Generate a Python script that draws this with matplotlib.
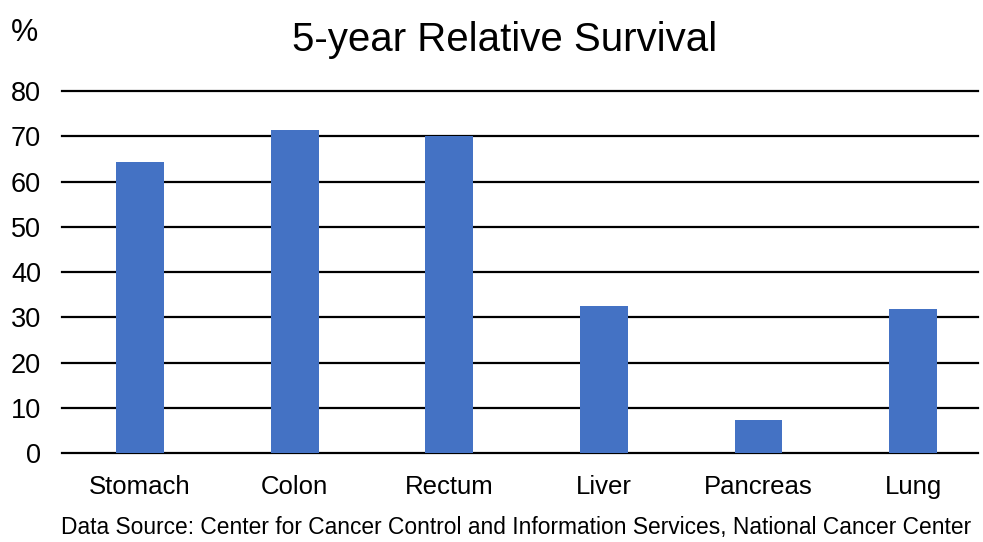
import matplotlib
matplotlib.use("Agg")
import matplotlib.pyplot as plt

# 5-year relative survival by cancer site (%)
sites = ["Stomach", "Colon", "Rectum", "Liver", "Pancreas", "Lung"]
survival = [64.4, 71.4, 70.0, 32.5, 7.4, 31.8]
y_ticks = [0, 10, 20, 30, 40, 50, 60, 70, 80]

plt.rcParams["font.family"] = ["Liberation Sans", "DejaVu Sans"]

fig = plt.figure(figsize=(9.83, 5.42), dpi=100)
ax = fig.add_axes([0.063, 0.164, 0.932, 0.668])

x = range(len(sites))
ax.bar(x, survival, width=0.31, color="#4472C4", zorder=3)

ax.set_xlim(-0.505, 5.42)
ax.set_ylim(0, 80)
ax.set_yticks(y_ticks)
ax.set_yticklabels([str(v) for v in y_ticks], fontsize=19.5)
ax.set_xticks(list(x))
ax.set_xticklabels(sites, fontsize=18.5)

ax.grid(axis="y", color="black", linewidth=1.6, zorder=0)
for line in ax.get_ygridlines():
    line.set_clip_on(False)
ax.tick_params(axis="both", length=0)
ax.tick_params(axis="y", pad=15)
ax.tick_params(axis="x", pad=16)
for side in ["top", "right", "left", "bottom"]:
    ax.spines[side].set_visible(False)

fig.text(0.513, 0.926, "5-year Relative Survival", ha="center", va="center", fontsize=29)
fig.text(0.025, 0.94, "%", ha="center", va="center", fontsize=22)
fig.text(0.525, 0.027, "Data Source: Center for Cancer Control and Information Services, National Cancer Center",
         ha="center", va="center", fontsize=16.4)

fig.savefig("out.png", dpi=100)
